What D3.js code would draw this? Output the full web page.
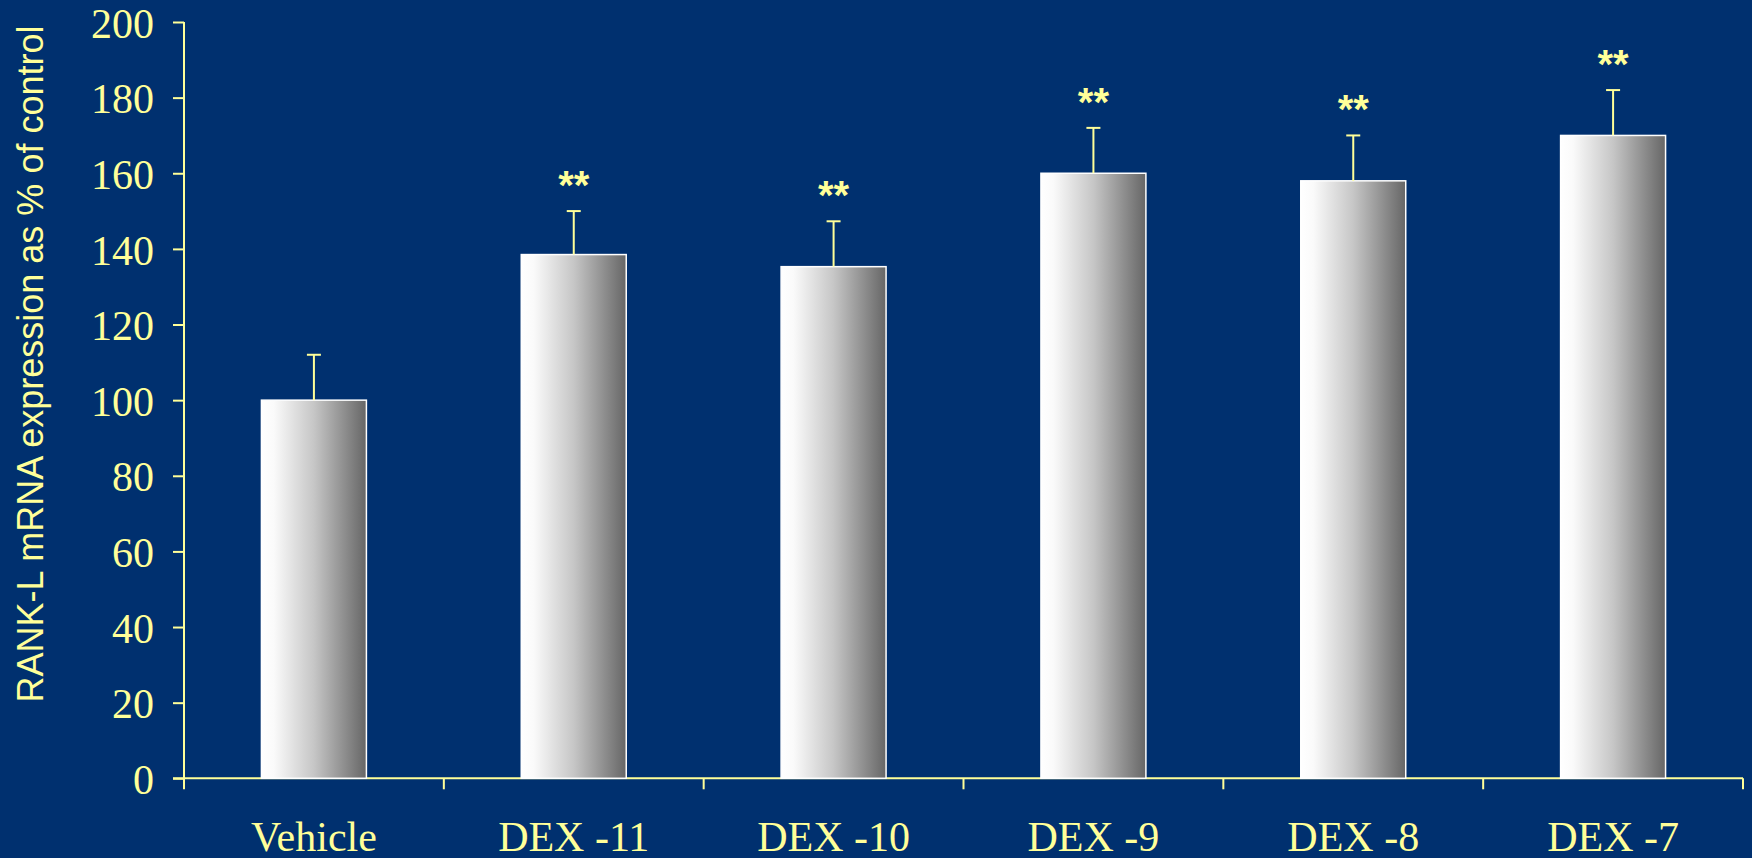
<!DOCTYPE html>
<html>
<head>
<meta charset="utf-8">
<script src="https://cdn.jsdelivr.net/npm/d3@7"></script>
<style>
  html, body { margin: 0; padding: 0; background: #00306f; }
  svg { display: block; }
</style>
</head>
<body>
<script>
// RANK-L mRNA expression after DEX treatment, % of vehicle control
const categories = ["Vehicle", "DEX -11", "DEX -10", "DEX -9", "DEX -8", "DEX -7"];
const values = [100, 138.5, 135.3, 160, 158, 170];
const errors = [12, 11.5, 12, 12, 12, 12];
const significance = ["", "**", "**", "**", "**", "**"];
const yTicks = [0, 20, 40, 60, 80, 100, 120, 140, 160, 180, 200];
const yTitle = "RANK-L mRNA expression as % of control";

const W = 1752, H = 858;
const bg = "#00306f", ink = "#ffff99";

const svg = d3.select("body").append("svg")
  .attr("width", W).attr("height", H);

svg.append("rect").attr("width", W).attr("height", H).attr("fill", bg);

const defs = svg.append("defs");
const grad = defs.append("linearGradient").attr("id", "barShade")
  .attr("x1", "0%").attr("x2", "100%").attr("y1", "0%").attr("y2", "0%");
grad.append("stop").attr("offset", "0%").attr("stop-color", "#ffffff");
grad.append("stop").attr("offset", "12%").attr("stop-color", "#fafafa");
grad.append("stop").attr("offset", "50%").attr("stop-color", "#c6c6c6");
grad.append("stop").attr("offset", "100%").attr("stop-color", "#666666");

const x = d3.scaleBand().domain(categories).range([184, 1743]).padding(0);
const y = d3.scaleLinear().domain([0, 200]).range([778.3, 22]);
const barW = x.bandwidth() * 0.404;

// Y axis
const yAxis = svg.append("g")
  .attr("transform", `translate(${x.range()[0]},0)`)
  .call(d3.axisLeft(y).tickValues(yTicks).tickSize(11).tickPadding(19).tickSizeOuter(0));
yAxis.select(".domain").attr("stroke", ink).attr("stroke-width", 2)
  .attr("d", `M0,${y(200)}V${y(0) + 11}`);
yAxis.selectAll(".tick line").attr("stroke", ink).attr("stroke-width", 2);
yAxis.selectAll(".tick text")
  .attr("fill", ink)
  .attr("font-family", "'Liberation Serif', 'Times New Roman', serif")
  .attr("font-size", 42)
  .attr("dy", "0.36em");

// X axis: baseline with ticks at category boundaries
const xAxis = svg.append("g");
xAxis.append("line")
  .attr("x1", x.range()[0] - 11).attr("x2", x.range()[1])
  .attr("y1", y(0)).attr("y2", y(0))
  .attr("stroke", ink).attr("stroke-width", 2);
const bounds = categories.slice(1).map(c => x(c)).concat([x.range()[1]]);
xAxis.selectAll("line.bnd").data(bounds).enter().append("line")
  .attr("class", "bnd")
  .attr("x1", d => d).attr("x2", d => d)
  .attr("y1", y(0)).attr("y2", y(0) + 11)
  .attr("stroke", ink).attr("stroke-width", 2);
xAxis.selectAll("text").data(categories).enter().append("text")
  .attr("x", d => x(d) + x.bandwidth() / 2)
  .attr("y", 851)
  .attr("text-anchor", "middle")
  .attr("fill", ink)
  .attr("font-family", "'Liberation Serif', 'Times New Roman', serif")
  .attr("font-size", 42)
  .text(d => d);

// Y title
svg.append("text")
  .attr("transform", `translate(43,${364}) rotate(-90)`)
  .attr("text-anchor", "middle")
  .attr("fill", ink)
  .attr("font-family", "'Liberation Sans', Arial, sans-serif")
  .attr("font-size", 36)
  .text(yTitle);

const rows = categories.map((c, i) => ({ c, v: values[i], e: errors[i], s: significance[i] }));

// Bars
svg.append("g").selectAll("rect").data(rows).enter().append("rect")
  .attr("x", d => x(d.c) + x.bandwidth() / 2 - barW / 2)
  .attr("y", d => y(d.v))
  .attr("width", barW)
  .attr("height", d => y(0) - y(d.v))
  .attr("fill", "url(#barShade)")
  .attr("stroke", "#ffffff")
  .attr("stroke-width", 1.5);

// Error bars (upper only)
const eb = svg.append("g").attr("stroke", ink).attr("stroke-width", 2);
eb.selectAll("line.v").data(rows).enter().append("line")
  .attr("class", "v")
  .attr("x1", d => x(d.c) + x.bandwidth() / 2).attr("x2", d => x(d.c) + x.bandwidth() / 2)
  .attr("y1", d => y(d.v)).attr("y2", d => y(d.v + d.e));
eb.selectAll("line.cap").data(rows).enter().append("line")
  .attr("class", "cap")
  .attr("x1", d => x(d.c) + x.bandwidth() / 2 - 7).attr("x2", d => x(d.c) + x.bandwidth() / 2 + 7)
  .attr("y1", d => y(d.v + d.e)).attr("y2", d => y(d.v + d.e));

// Significance markers
svg.append("g").selectAll("text").data(rows.filter(d => d.s)).enter().append("text")
  .attr("x", d => x(d.c) + x.bandwidth() / 2)
  .attr("y", d => y(d.v + d.e) - 12)
  .attr("text-anchor", "middle")
  .attr("fill", ink)
  .attr("font-family", "'Liberation Sans', Arial, sans-serif")
  .attr("font-weight", "bold")
  .attr("font-size", 40)
  .text(d => d.s);
</script>
</body>
</html>
